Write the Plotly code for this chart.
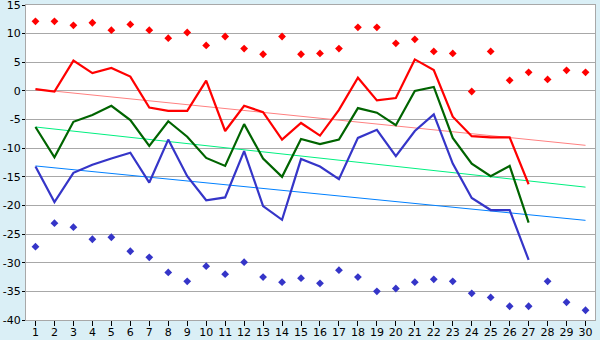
import plotly.graph_objects as go

# Days of the month
days_line = list(range(1, 28))
days_all = list(range(1, 31))

# Daily series (degrees)
red_line = [0.3, -0.1, 5.3, 3.1, 4.0, 2.5, -2.9, -3.5, -3.5, 1.8,
            -7.0, -2.6, -3.7, -8.5, -5.6, -7.8, -3.3, 2.3, -1.65, -1.25,
            5.5, 3.65, -4.5, -7.9, -8.1, -8.1, -16.3]
green_line = [-6.3, -11.6, -5.4, -4.2, -2.6, -5.1, -9.6, -5.3, -8.0, -11.7,
              -13.1, -5.8, -11.8, -15.0, -8.4, -9.3, -8.5, -3.0, -3.8, -6.0,
              0.0, 0.7, -8.2, -12.7, -14.9, -13.1, -23.0]
blue_line = [-13.2, -19.4, -14.3, -12.9, -11.8, -10.8, -16.0, -8.5, -14.9, -19.1,
             -18.6, -10.5, -20.1, -22.5, -11.9, -13.2, -15.4, -8.2, -6.8, -11.4,
             -7.0, -4.1, -12.7, -18.7, -20.8, -20.8, -29.5]

# Record extremes per day
max_points = [12.15, 12.15, 11.45, 11.9, 10.6, 11.6, 10.6, 9.2, 10.2, 7.95,
              9.5, 7.4, 6.4, 9.5, 6.4, 6.55, 7.4, 11.1, 11.1, 8.3,
              9.0, 6.9, 6.55, -0.1, 6.9, 1.85, 3.25, 2.0, 3.6, 3.25]
min_points = [-27.2, -23.1, -23.8, -25.9, -25.55, -28.0, -29.05, -31.7, -33.25, -30.6,
              -32.0, -29.9, -32.5, -33.4, -32.7, -33.6, -31.3, -32.5, -35.0, -34.5,
              -33.4, -32.9, -33.25, -35.35, -36.05, -37.6, -37.6, -33.25, -36.9, -38.3]

# Trend lines: value on the first and last day
trend_days = [1, 30]
red_trend = [0.3, -9.5]
green_trend = [-6.3, -16.8]
blue_trend = [-13.1, -22.6]

y_ticks = list(range(-40, 16, 5))
y_labels = [str(v) for v in y_ticks]

fig = go.Figure()

for vals, col in [(red_trend, "#FF8080"), (green_trend, "#00F080"), (blue_trend, "#0080FF")]:
    fig.add_trace(go.Scatter(x=trend_days, y=vals, mode="lines",
                             line=dict(color=col, width=1), hoverinfo="skip"))

for vals, col in [(red_line, "#FF0000"), (green_line, "#006400"), (blue_line, "#3535C8")]:
    fig.add_trace(go.Scatter(x=days_line, y=vals, mode="lines",
                             line=dict(color=col, width=2.2)))

fig.add_trace(go.Scatter(x=days_all, y=max_points, mode="markers",
                         marker=dict(symbol="diamond", size=6, color="#FF0000")))
fig.add_trace(go.Scatter(x=days_all, y=min_points, mode="markers",
                         marker=dict(symbol="diamond", size=6, color="#3535C8")))

fig.update_layout(
    width=600, height=340,
    margin=dict(l=26, r=5, t=5, b=20),
    paper_bgcolor="#DAEFF6",
    plot_bgcolor="#FFFFFF",
    showlegend=False,
    font=dict(family="DejaVu Sans", size=11, color="#000000"),
)
fig.update_xaxes(
    range=[0.5, 30.5], tickmode="array", tickvals=days_all,
    ticks="outside", ticklen=5, tickcolor="#000000", tickwidth=1,
    ticklabelstandoff=-3,
    showgrid=False, zeroline=False, showline=True, linecolor="#A8A8A8",
    mirror=True, linewidth=1, automargin=False, ticklabeloverflow="allow",
)
fig.update_yaxes(
    range=[-40, 15], tickmode="array", tickvals=y_ticks, ticktext=y_labels,
    ticks="outside", ticklen=3, tickcolor="#000000",
    ticklabelstandoff=-1,
    showgrid=True, gridcolor="#A8A8A8", gridwidth=1, zeroline=False,
    showline=True, linecolor="#A8A8A8", mirror=True, linewidth=1,
    automargin=False, ticklabeloverflow="allow",
)

fig.write_html("out.html")
